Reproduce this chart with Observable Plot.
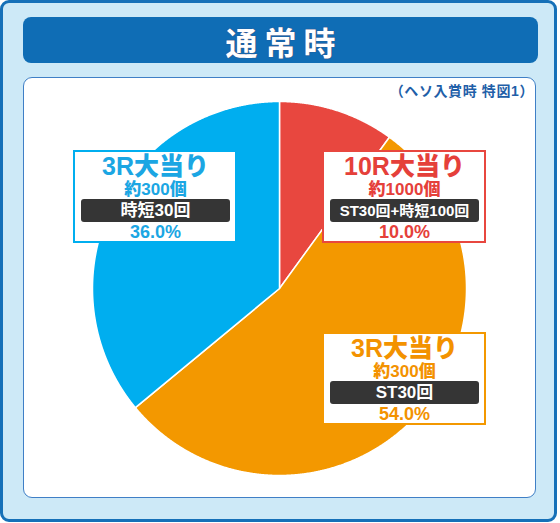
<!DOCTYPE html>
<html><head><meta charset="utf-8">
<script src="https://cdn.jsdelivr.net/npm/d3@7"></script>
<script src="https://cdn.jsdelivr.net/npm/@observablehq/plot@0.6"></script>
<style>
html,body{margin:0;padding:0;background:#fff;}
#page{position:relative;width:560px;height:523px;font-family:"Noto Sans CJK JP","Noto Sans",sans-serif;}
#frame{position:absolute;left:0;top:0;width:557px;height:522px;box-sizing:border-box;background:#cde9f7;border:3px solid #1570b8;border-radius:9px;}
#header{position:absolute;left:23px;top:17px;width:515px;height:46px;background:#0f6db5;border-radius:8px;color:#fff;text-align:center;font-weight:700;font-size:32px;line-height:48px;letter-spacing:7px;text-indent:7px;text-shadow:0 0 1px #6a2f4f;}
#panel{position:absolute;left:23px;top:77px;width:513px;height:421px;box-sizing:border-box;background:#fff;border:1px solid #3f7fc6;border-radius:9px;}
#sub{position:absolute;right:26px;top:80px;font-size:14px;letter-spacing:0.6px;font-weight:700;color:#1f5fa8;white-space:nowrap;font-family:"Liberation Sans","Noto Sans CJK JP",sans-serif;}
#chart{position:absolute;left:24px;top:78px;}
</style>
</head><body>
<div id="page">
  <div id="frame"></div>
  <div id="header">通常時</div>
  <div id="panel"></div>
  <div id="sub">（ヘソ入賞時 特図1）</div>
  <div id="chart"></div>
</div>
<script>
// ---- data ----
const categories = ["10R大当り", "3R大当り", "3R大当り"];
const shares = [10.0, 54.0, 36.0];
const payouts = ["約1000個", "約300個", "約300個"];
const modes = ["ST30回+時短100回", "ST30回", "時短30回"];
const colors = ["#e8473f", "#f39800", "#00aeef"];
const textColors = ["#e5403a", "#f39200", "#1ba6e3"];

// ---- layout (pixels inside svg) ----
const W = 511, H = 419;
const cx = 255, cy = 210, R = 187;
const boxW = 162, boxH = 91;
const boxPos = [[299, 73], [299, 255], [50, 73]];
const modeSize = [15, 17, 17];

const pie = d3.pie().sort(null).value(d => d)(shares);
const pts = [];
pie.forEach((s, i) => {
  pts.push({k: i, x: cx, y: cy});
  const n = Math.ceil((s.endAngle - s.startAngle) / 0.004);
  for (let j = 0; j <= n; j++) {
    const a = s.startAngle + (s.endAngle - s.startAngle) * j / n;
    pts.push({k: i, x: cx + R * Math.sin(a), y: cy - R * Math.cos(a)});
  }
});

const labels = categories.map((c, i) => {
  const [bx, by] = boxPos[i];
  return {
    i, bx, by, mx: bx + boxW / 2,
    title: c, payout: payouts[i], mode: modes[i],
    pct: d3.format(".1f")(shares[i]) + "%",
    color: colors[i], tcolor: textColors[i], msize: modeSize[i]
  };
});

const fam = '"Liberation Sans", "Noto Sans CJK JP", sans-serif';
const chart = Plot.plot({
  width: W, height: H, margin: 0,
  x: {domain: [0, W], range: [0, W], axis: null},
  y: {domain: [0, H], range: [0, H], axis: null},
  color: {type: "identity"},
  style: {background: "transparent", overflow: "visible", fontFamily: fam},
  marks: [
    Plot.line(pts, {x: "x", y: "y", z: "k", fill: d => colors[d.k], stroke: "white", strokeWidth: 1.5, curve: "linear-closed"}),
    Plot.rect(labels, {x1: "bx", x2: d => d.bx + boxW, y1: "by", y2: d => d.by + boxH, fill: "white", stroke: "color", strokeWidth: 2}),
    Plot.rect(labels, {x1: d => d.bx + 7, x2: d => d.bx + boxW - 6, y1: d => d.by + 48, y2: d => d.by + 71, fill: "#353535", rx: 3}),
    Plot.text(labels, {x: "mx", y: d => d.by + 15, text: "title", fill: "tcolor", stroke: "white", strokeWidth: 2, fontSize: 25, fontWeight: 900}),
    Plot.text(labels, {x: "mx", y: d => d.by + 38.5, text: "payout", fill: "tcolor", stroke: "white", strokeWidth: 2, fontSize: 17, fontWeight: 900}),
    Plot.text(labels, {x: "mx", y: d => d.by + 59.5, text: "mode", fill: "white", fontSize: d => d.msize, fontWeight: 700}),
    Plot.text(labels, {x: "mx", y: d => d.by + 80.5, text: "pct", fill: "tcolor", stroke: "white", strokeWidth: 2, fontSize: 18, fontWeight: 900})
  ]
});
document.getElementById("chart").appendChild(chart);
</script>
</body></html>
